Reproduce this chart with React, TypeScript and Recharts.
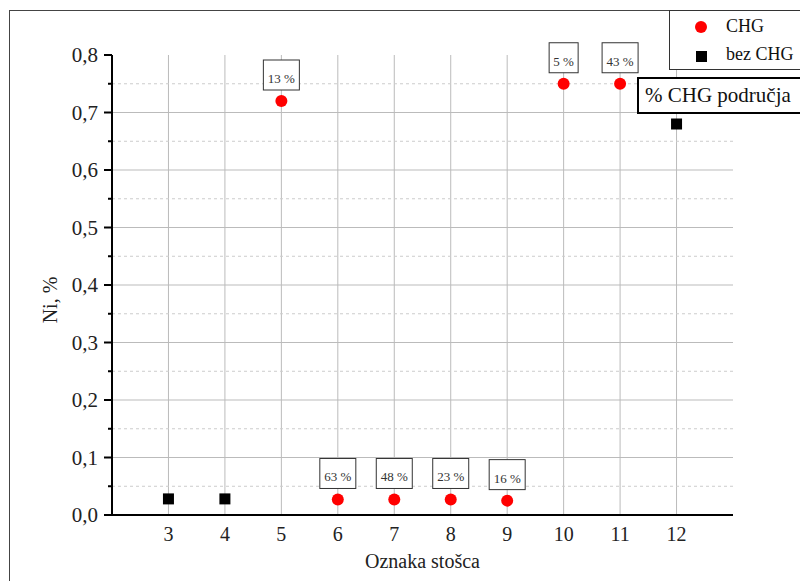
import {ScatterChart, Scatter, XAxis, YAxis, CartesianGrid, Legend} from 'recharts'

// cones with CHG zone
const chgCones = [5, 6, 7, 8, 9, 10, 11]
const chgNi = [0.72, 0.027, 0.027, 0.027, 0.025, 0.75, 0.75]
const chgShare = ['13 %', '63 %', '48 %', '23 %', '16 %', '5 %', '43 %']

// cones without CHG
const bezCones = [3, 4, 12]
const bezNi = [0.028, 0.028, 0.68]

const xTicks = [3, 4, 5, 6, 7, 8, 9, 10, 11, 12]
const yTicks = [0, 0.05, 0.1, 0.15, 0.2, 0.25, 0.3, 0.35, 0.4, 0.45, 0.5, 0.55, 0.6, 0.65, 0.7, 0.75, 0.8]
const yMajor = [0.1, 0.2, 0.3, 0.4, 0.5, 0.6, 0.7]
const yMinor = [0.05, 0.15, 0.25, 0.35, 0.45, 0.55, 0.65, 0.75]

const chgData = chgCones.map((c, i) => ({x: c, y: chgNi[i], pct: chgShare[i]}))
const bezData = bezCones.map((c, i) => ({x: c, y: bezNi[i]}))

const FONT = '"Liberation Serif", "Times New Roman", serif'
const TICK_SIZE = 8
const TICK_MARGIN = 6

const YTick = (props: any) => {
    const {x, y, payload} = props
    const v = payload.value
    const major = Math.abs(v * 10 - Math.round(v * 10)) < 1e-6
    const axisX = x + TICK_SIZE + TICK_MARGIN
    return (
        <g>
            <line x1={axisX - (major ? 8 : 4)} x2={axisX} y1={y} y2={y} stroke="#000" strokeWidth={2} />
            {major && (
                <text x={x} y={y} dy={7} textAnchor="end" fontFamily={FONT} fontSize={21} fill="#222">
                    {v.toFixed(1).replace('.', ',')}
                </text>
            )}
        </g>
    )
}

const ChgPoint = (props: any) => {
    const {cx, cy, payload} = props
    const w = 8 + payload.pct.length * 7
    return (
        <g>
            <circle cx={cx} cy={cy} r={6} fill="#ff0000" />
            <rect x={cx - w / 2} y={cy - 41} width={w} height={30} fill="#fff" stroke="#333" strokeWidth={1} />
            <text x={cx} y={cy - 18} textAnchor="middle" fontFamily={FONT} fontSize={13} fill="#333">
                {payload.pct}
            </text>
        </g>
    )
}

const BezPoint = (props: any) => {
    const {cx, cy} = props
    return <rect x={cx - 5.5} y={cy - 5.5} width={11} height={11} fill="#000" />
}

const LegendBox = () => (
    <div style={{border: '1px solid #333', background: '#fff', width: 140, height: 58, fontFamily: FONT, fontSize: 18, color: '#111', position: 'relative'}}>
        <div style={{position: 'absolute', left: 25, top: 10, width: 12, height: 12, borderRadius: 6, background: '#ff0000'}} />
        <div style={{position: 'absolute', left: 56, top: 5}}>CHG</div>
        <div style={{position: 'absolute', left: 26, top: 40, width: 11, height: 11, background: '#000'}} />
        <div style={{position: 'absolute', left: 56, top: 33, whiteSpace: 'nowrap'}}>bez CHG</div>
    </div>
)

const App = () => {
    return (
        <div style={{position: 'absolute', left: 0, top: 0, width: 800, height: 581, overflow: 'hidden', background: '#fff'}}>
            <div style={{position: 'absolute', left: 9, top: 10, width: 800, height: 600, borderTop: '1px solid #444', borderLeft: '1px solid #444'}} />
            <ScatterChart width={800} height={581} margin={{top: 55, right: 67, bottom: 11, left: 32}}>
                <CartesianGrid horizontalValues={yMajor} verticalValues={xTicks} stroke="#bbb" strokeWidth={1} />
                <CartesianGrid horizontalValues={yMinor} vertical={false} stroke="#ccc" strokeDasharray="3 3" />
                <XAxis
                    type="number"
                    dataKey="x"
                    domain={[2, 13]}
                    ticks={xTicks}
                    allowDataOverflow
                    height={55}
                    tickLine={false}
                    tickSize={0}
                    tickMargin={12}
                    axisLine={{stroke: '#000', strokeWidth: 2}}
                    tick={{fontFamily: FONT, fontSize: 20, fill: '#222'}}
                    label={{
                        content: (p: any) => (
                            <text x={p.viewBox.x + p.viewBox.width / 2} y={p.viewBox.y + 53} textAnchor="middle" fontFamily={FONT} fontSize={20} fill="#222">
                                Oznaka stošca
                            </text>
                        ),
                    }}
                />
                <YAxis
                    type="number"
                    dataKey="y"
                    domain={[0, 0.8]}
                    ticks={yTicks}
                    interval={0}
                    width={80}
                    tickLine={false}
                    tickSize={TICK_SIZE}
                    tickMargin={TICK_MARGIN}
                    axisLine={{stroke: '#000', strokeWidth: 2}}
                    tick={<YTick />}
                    label={{
                        content: (p: any) => {
                            const cx = p.viewBox.x + 18
                            const cy = p.viewBox.y + p.viewBox.height / 2 + 15
                            return (
                                <text x={cx} y={cy} transform={`rotate(-90 ${cx} ${cy})`} textAnchor="middle" dy={7} fontFamily={FONT} fontSize={20} fill="#222">
                                    Ni, %
                                </text>
                            )
                        },
                    }}
                />
                <Legend
                    verticalAlign="top"
                    content={<LegendBox />}
                    wrapperStyle={{position: 'absolute', left: 669, top: 10, width: 140, height: 0, overflow: 'visible'}}
                />
                <Scatter name="CHG" data={chgData} shape={<ChgPoint />} isAnimationActive={false} />
                <Scatter name="bez CHG" data={bezData} shape={<BezPoint />} isAnimationActive={false} />
            </ScatterChart>
            <div style={{position: 'absolute', left: 637, top: 77, width: 180, height: 33, border: '2px solid #000', background: '#fff', fontFamily: FONT, fontSize: 21, lineHeight: '33px', paddingLeft: 6, color: '#111', whiteSpace: 'nowrap'}}>
                % CHG područja
            </div>
        </div>
    )
}

export default App
